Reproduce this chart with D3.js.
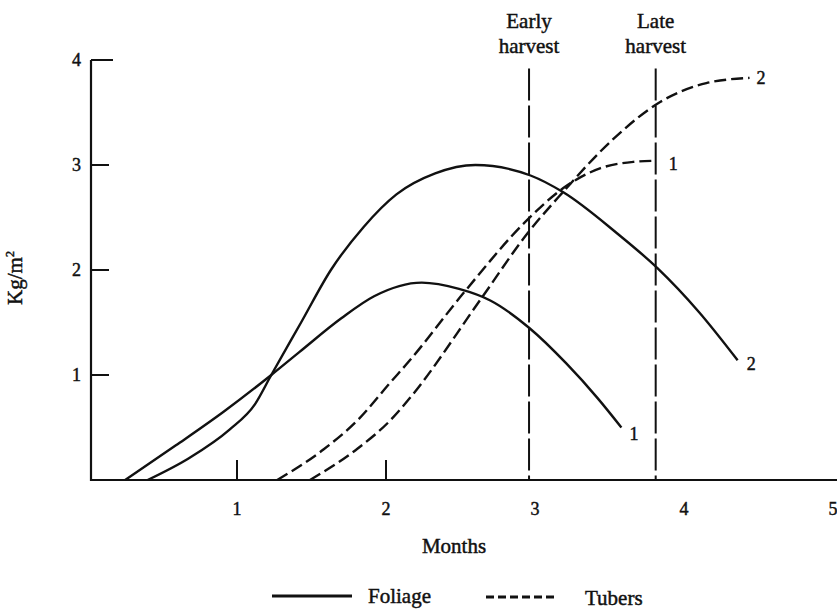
<!DOCTYPE html>
<html>
  <head>
    <meta charset="utf-8">
    <title>Foliage and tubers</title>
    <script src="https://d3js.org/d3.v7.min.js"></script>
    <style>
      body { margin: 0; background: #fff; }
      svg text { font-family: "Liberation Serif", "DejaVu Serif", serif; fill: #111; stroke: #111; stroke-width: 0.45px; }
    </style>
  </head>
  <body>
    <svg width="837" height="611"></svg>
    <script>
      // values (months, kg/m2)
      var foliage1Months = [0.25, 0.59, 0.91, 1.23, 1.42, 1.70, 1.92, 2.24, 2.49, 2.70, 2.96, 3.21, 3.42, 3.58];
      var foliage1Kg     = [0, 0.33, 0.65, 1.00, 1.22, 1.54, 1.75, 1.88, 1.82, 1.71, 1.45, 1.11, 0.78, 0.50];
      var foliage2Months = [0.40, 0.68, 0.95, 1.12, 1.23, 1.43, 1.63, 1.85, 2.07, 2.33, 2.60, 2.97, 3.19, 3.55, 3.82, 4.10, 4.36];
      var foliage2Kg     = [0, 0.21, 0.48, 0.72, 1.00, 1.50, 2.00, 2.41, 2.72, 2.92, 3.00, 2.90, 2.74, 2.35, 2.02, 1.60, 1.14];
      var tubers1Months  = [1.27, 1.58, 1.81, 2.03, 2.16, 2.52, 2.95, 3.19, 3.44, 3.66, 3.79];
      var tubers1Kg      = [0, 0.29, 0.57, 0.93, 1.14, 1.78, 2.48, 2.78, 2.97, 3.03, 3.04];
      var tubers2Months  = [1.49, 1.81, 2.03, 2.16, 2.63, 2.95, 3.18, 3.52, 3.84, 4.15, 4.44];
      var tubers2Kg      = [0, 0.30, 0.57, 0.78, 1.71, 2.35, 2.73, 3.24, 3.60, 3.78, 3.83];
      var harvestMonths  = [2.96, 3.81];
      var harvestNames   = [["Early", "harvest"], ["Late", "harvest"]];
      var xTickValues    = [1, 2, 3, 4, 5];
      var xMarkValues    = [1, 2];
      var yTickValues    = [1, 2, 3, 4];

      var svg = d3.select("svg");
      var x = d3.scaleLinear().domain([0, 5]).range([88, 833]);
      var y = d3.scaleLinear().domain([0, 4]).range([480, 60]);

      function zip(xs, ys) { return xs.map(function (d, i) { return [d, ys[i]]; }); }
      var line = d3.line()
        .x(function (d) { return x(d[0]); })
        .y(function (d) { return y(d[1]); })
        .curve(d3.curveMonotoneX);

      // axes
      svg.append("line").attr("x1", 91).attr("x2", 91).attr("y1", y(4)).attr("y2", y(0) + 1)
        .attr("stroke", "#111").attr("stroke-width", 2.2);
      svg.append("line").attr("x1", 90).attr("x2", 837).attr("y1", y(0)).attr("y2", y(0))
        .attr("stroke", "#111").attr("stroke-width", 2.2);

      svg.selectAll(".ytick").data(yTickValues).enter().append("line")
        .attr("x1", 91).attr("x2", function (d) { return d === 4 ? 113 : 109; })
        .attr("y1", function (d) { return y(d); }).attr("y2", function (d) { return y(d); })
        .attr("stroke", "#111").attr("stroke-width", 2);
      svg.selectAll(".ylab").data(yTickValues).enter().append("text")
        .attr("x", 81).attr("y", function (d) { return y(d) + 6; })
        .attr("text-anchor", "end").attr("font-size", 18)
        .text(function (d) { return d; });

      svg.selectAll(".xmark").data(xMarkValues).enter().append("line")
        .attr("x1", function (d) { return x(d); }).attr("x2", function (d) { return x(d); })
        .attr("y1", y(0)).attr("y2", y(0) - 20)
        .attr("stroke", "#111").attr("stroke-width", 2);
      svg.selectAll(".xlab").data(xTickValues).enter().append("text")
        .attr("x", function (d) { return x(d); }).attr("y", 515)
        .attr("text-anchor", "middle").attr("font-size", 18)
        .text(function (d) { return d; });

      svg.append("text").attr("x", 454).attr("y", 553).attr("text-anchor", "middle")
        .attr("font-size", 21).text("Months");
      var yl = svg.append("text").attr("transform", "translate(22,278) rotate(-90)")
        .attr("text-anchor", "middle").attr("font-size", 21);
      yl.append("tspan").text("Kg/m");
      yl.append("tspan").attr("dy", -8).attr("font-size", 12).text("2");

      // harvest lines
      svg.selectAll(".harvest").data(harvestMonths).enter().append("line")
        .attr("x1", function (d) { return x(d); }).attr("x2", function (d) { return x(d); })
        .attr("y1", y(3.92)).attr("y2", y(0))
        .attr("stroke", "#111").attr("stroke-width", 2).attr("stroke-dasharray", "32,5");
      harvestMonths.forEach(function (m, i) {
        svg.append("text").attr("x", x(m)).attr("y", 28).attr("text-anchor", "middle")
          .attr("font-size", 21).text(harvestNames[i][0]);
        svg.append("text").attr("x", x(m)).attr("y", 53).attr("text-anchor", "middle")
          .attr("font-size", 21).text(harvestNames[i][1]);
      });

      // curves
      var series = [
        { pts: zip(foliage1Months, foliage1Kg), dash: null, label: "1", dx: 8, dy: 12 },
        { pts: zip(foliage2Months, foliage2Kg), dash: null, label: "2", dx: 9, dy: 10 },
        { pts: zip(tubers1Months, tubers1Kg), dash: "12,5", label: "1", dx: 16, dy: 9 },
        { pts: zip(tubers2Months, tubers2Kg), dash: "12,5", label: "2", dx: 7, dy: 6 }
      ];
      series.forEach(function (s) {
        svg.append("path").attr("d", line(s.pts))
          .attr("fill", "none").attr("stroke", "#111").attr("stroke-width", 2.4)
          .attr("stroke-dasharray", s.dash);
        var last = s.pts[s.pts.length - 1];
        svg.append("text").attr("x", x(last[0]) + s.dx).attr("y", y(last[1]) + s.dy)
          .attr("font-size", 18).text(s.label);
      });

      // legend
      svg.append("line").attr("x1", 272).attr("x2", 352).attr("y1", 596).attr("y2", 596)
        .attr("stroke", "#111").attr("stroke-width", 3);
      svg.append("text").attr("x", 368).attr("y", 603).attr("font-size", 21).text("Foliage");
      svg.append("line").attr("x1", 486).attr("x2", 558).attr("y1", 597).attr("y2", 597)
        .attr("stroke", "#111").attr("stroke-width", 3).attr("stroke-dasharray", "8,4");
      svg.append("text").attr("x", 585).attr("y", 605).attr("font-size", 21).text("Tubers");
    </script>
  </body>
</html>
